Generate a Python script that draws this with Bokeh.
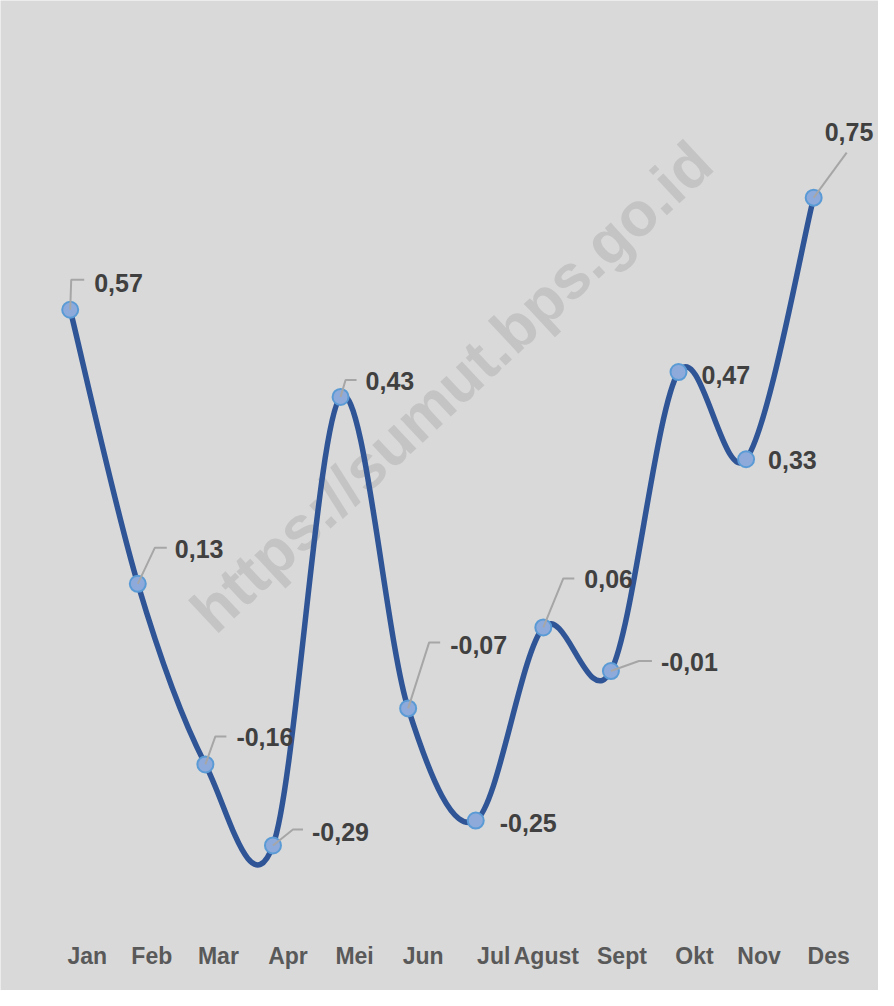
import math
from bokeh.plotting import figure
from bokeh.models import ColumnDataSource, Range1d
from bokeh.core.properties import value
from bokeh.embed import file_html
from bokeh.resources import INLINE

# ---- data ----
months = ["Jan", "Feb", "Mar", "Apr", "Mei", "Jun", "Jul", "Agust", "Sept", "Okt", "Nov", "Des"]
inflation = [0.57, 0.13, -0.16, -0.29, 0.43, -0.07, -0.25, 0.06, -0.01, 0.47, 0.33, 0.75]
value_labels = [f"{v:.2f}".replace(".", ",") for v in inflation]

# ---- style / layout (pixel offsets) ----
W, H = 878, 990
X_START, X_END = -1.0313, 11.959
Y_START, Y_END = -0.5229, 1.0665
ux = (X_END - X_START) / W
uy = (Y_END - Y_START) / H

# label offsets (px, screen: +x right, +y down)
lab_dx = [24, 37, 31, 39, 25, 42, 24, 41, 50, 23, 22, 11]
lab_dy = [-27, -35, -27, -13, -16, -63, 2, -48, -9, 3, 1, -66]
# leader lines: elbow and end offsets (px), None = no leader
leaders = [((1, -30), (14, -30)), ((17, -36), (29, -36)), ((10, -28), (21, -28)),
           ((20, -16), (30, -16)), ((5, -17), (16, -17)), ((21, -66), (32, -66)),
           None, ((20, -49), (31, -49)), ((28, -10), (41, -10)), None, None,
           ((33, -45), (33, -45))]
month_dx = [17, 14, 13, 15, 14, 15, 18, 3, 11, 16, 13, 15]

BG = "#d9d9d9"
LINE = "#2f5597"
FONT = "Liberation Sans"

p = figure(width=W, height=H, output_backend="svg", toolbar_location=None,
           x_range=Range1d(X_START, X_END), y_range=Range1d(Y_START, Y_END),
           min_border=0, background_fill_color=BG, border_fill_color=BG)
p.outline_line_color = None
p.axis.visible = False
p.grid.visible = False

# watermark
p.text(x=[X_START + 451 * ux], y=[Y_END - 386 * uy], text=["https://sumut.bps.go.id"],
       angle=43, angle_units="deg", text_align="center", text_baseline="middle",
       text_font=value(FONT), text_font_style="bold", text_font_size="62px",
       text_color="#c4c4c4")

# smoothed line (Catmull-Rom style Bezier like Excel smoothing)
n = len(inflation)
xs = list(range(n))
x0, y0, x1, y1, cx0, cy0, cx1, cy1 = [], [], [], [], [], [], [], []
for i in range(n - 1):
    pi = max(i - 1, 0)
    ni = min(i + 2, n - 1)
    x0.append(xs[i]); y0.append(inflation[i])
    x1.append(xs[i + 1]); y1.append(inflation[i + 1])
    cx0.append(xs[i] + (xs[i + 1] - xs[pi]) / 6)
    cy0.append(inflation[i] + (inflation[i + 1] - inflation[pi]) / 6)
    cx1.append(xs[i + 1] - (xs[ni] - xs[i]) / 6)
    cy1.append(inflation[i + 1] - (inflation[ni] - inflation[i]) / 6)
p.bezier(x0=x0, y0=y0, x1=x1, y1=y1, cx0=cx0, cy0=cy0, cx1=cx1, cy1=cy1,
         line_color=LINE, line_width=5.5, line_cap="round")

# markers
p.scatter(xs, inflation, size=16, fill_color="#8eaadb", line_color="#5b9bd5", line_width=2)

# leader lines
lx, ly = [], []
for i, ld in enumerate(leaders):
    if ld is None:
        continue
    (ex, ey), (fx, fy) = ld
    lx.append([xs[i], xs[i] + ex * ux, xs[i] + fx * ux])
    ly.append([inflation[i], inflation[i] - ey * uy, inflation[i] - fy * uy])
p.multi_line(lx, ly, line_color="#a6a6a6", line_width=2)

# value labels
src = ColumnDataSource(dict(x=xs, y=inflation, t=value_labels, dx=lab_dx, dy=lab_dy))
p.text(x="x", y="y", text="t", x_offset="dx", y_offset="dy", source=src,
       text_align="left", text_baseline="middle",
       text_font=value(FONT), text_font_style="bold",
       text_font_size="25px", text_color="#404040")

# month labels
msrc = ColumnDataSource(dict(x=[xs[i] + month_dx[i] * ux for i in range(n)], y=[Y_START] * n, t=months))
p.text(x="x", y="y", text="t", y_offset=-35, source=msrc,
       text_align="center", text_baseline="middle",
       text_font=value(FONT), text_font_style="bold",
       text_font_size="23px", text_color="#595959")

open("out.html", "w").write(file_html(p, INLINE))
